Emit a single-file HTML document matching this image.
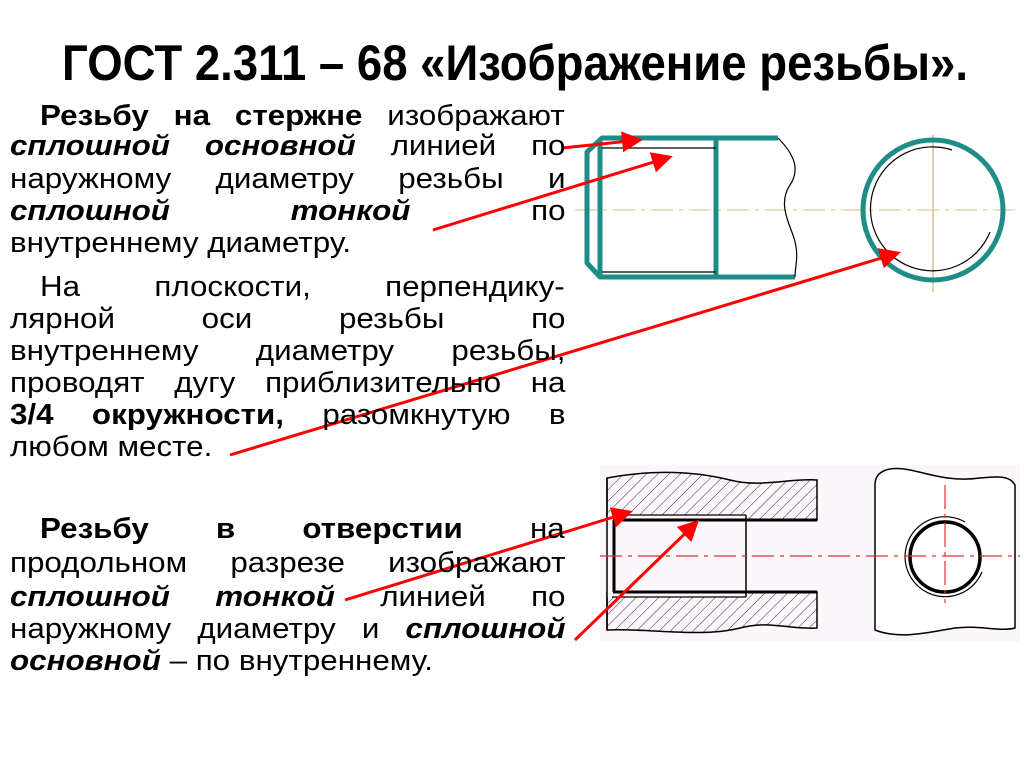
<!DOCTYPE html>
<html><head><meta charset="utf-8"><style>
body{margin:0;width:1024px;height:767px;background:#fff;position:relative;overflow:hidden;font-family:"Liberation Sans","DejaVu Sans",sans-serif;}
.l{position:absolute;left:10px;width:505px;font-size:28.5px;line-height:30px;height:30px;white-space:nowrap;text-align:justify;text-align-last:justify;color:#000;transform:scaleX(1.1);transform-origin:0 0;}
.n{text-align-last:left;}
.i{left:40px;width:477px;}
b{font-weight:bold}
svg{position:absolute;left:0;top:0}
</style></head><body>
<svg width="1024" height="767">
<text x="62" y="80" font-family="Liberation Sans" font-weight="bold" font-size="50" textLength="906" lengthAdjust="spacingAndGlyphs">ГОСТ 2.311 – 68 «Изображение резьбы».</text>
<line x1="575" y1="210" x2="1020" y2="210" stroke="#e8d4a8" stroke-width="1.5" stroke-dasharray="22,6,4,6"/>
<line x1="933" y1="135" x2="933" y2="292" stroke="#d8c090" stroke-width="1.5"/>
<g stroke="#1f8d87" stroke-width="5" fill="none" stroke-linejoin="round">
<path d="M778 138 L602 138 L587 152 L587 263 L600 277 L795 277"/>
<line x1="600" y1="140" x2="600" y2="276"/>
<line x1="716" y1="138" x2="716" y2="277"/>
<circle cx="933" cy="210" r="70"/>
</g>
<g stroke="#000" stroke-width="1.2" fill="none">
<line x1="602" y1="148" x2="716" y2="148"/>
<line x1="602" y1="272" x2="716" y2="272"/>
<path d="M778 138 C795 155,800 170,790 185 C780 200,785 215,793 235 C800 255,795 265,795 277"/>
<path d="M952 150 A62 62 0 1 0 990 232"/>
</g>
<rect x="600" y="465" width="420" height="177" fill="#faf6fa"/>
<defs><pattern id="h" width="8" height="8" patternUnits="userSpaceOnUse" patternTransform="rotate(45)"><line x1="0" y1="0" x2="0" y2="8" stroke="#333" stroke-width="1"/></pattern></defs>
<path d="M607 478 C650 470,690 470,730 480 C760 488,790 478,817 480 L817 520 L607 520 Z" fill="url(#h)" stroke="#000" stroke-width="1.5"/>
<path d="M607 592 L817 592 L817 628 C790 630,770 620,740 628 C700 638,650 628,607 630 Z" fill="url(#h)" stroke="#000" stroke-width="1.5"/>
<rect x="607" y="515" width="139" height="82" fill="#faf6fa"/>
<rect x="746" y="520" width="71" height="72" fill="#faf6fa"/>
<g stroke="#000" fill="none">
<line x1="607" y1="478" x2="607" y2="630" stroke-width="1.5"/>
<line x1="613" y1="520" x2="817" y2="520" stroke-width="3"/>
<line x1="613" y1="592" x2="817" y2="592" stroke-width="3"/>
<line x1="614" y1="520" x2="614" y2="592" stroke-width="3"/>
<line x1="612" y1="515" x2="746" y2="515" stroke-width="1.2"/>
<line x1="612" y1="597" x2="746" y2="597" stroke-width="1.2"/>
<line x1="746" y1="515" x2="746" y2="597" stroke-width="1.5"/>
<path d="M875 485 C875 470,890 466,910 470 C930 474,950 482,980 478 C1000 476,1010 476,1015 485 L1015 628 C1000 632,980 625,955 628 C930 632,900 640,875 630 Z" stroke-width="1.5" fill="#fff"/>
<circle cx="945" cy="557" r="35" stroke-width="3.5"/>
<path d="M965 522 A40 40 0 1 0 982 572" stroke-width="1.2"/>
</g>
<line x1="600" y1="556" x2="1020" y2="556" stroke="#e03030" stroke-width="1.2" stroke-dasharray="22,6,4,6"/>
<line x1="945" y1="485" x2="945" y2="603" stroke="#e03030" stroke-width="1.2" stroke-dasharray="24,5,4,5"/>
<defs><marker id="a" markerWidth="7" markerHeight="7" refX="6" refY="3.5" orient="auto"><path d="M0 0 L7 3.5 L0 7 Z" fill="#f00"/></marker></defs>
<g stroke="#f00" stroke-width="3" marker-end="url(#a)">
<line x1="562" y1="148" x2="640" y2="140"/>
<line x1="433" y1="230" x2="670" y2="157"/>
<line x1="230" y1="455" x2="898" y2="253"/>
<line x1="345" y1="600" x2="630" y2="512"/>
<line x1="575" y1="640" x2="697" y2="522"/>
</g>
</svg>
<div class="l i" style="top:101px"><b>Резьбу на стержне</b> изображают</div>
<div class="l" style="top:131px"><b><i>сплошной основной</i></b> линией по</div>
<div class="l" style="top:164px">наружному диаметру резьбы и</div>
<div class="l" style="top:196px"><b><i>сплошной</i></b> <b><i>тонкой</i></b> по</div>
<div class="l n" style="top:228px">внутреннему диаметру.</div>
<div class="l i" style="top:272px">На плоскости, перпендику-</div>
<div class="l" style="top:304px">лярной оси резьбы по</div>
<div class="l" style="top:336px">внутреннему диаметру резьбы,</div>
<div class="l" style="top:368px">проводят дугу приблизительно на</div>
<div class="l" style="top:400px"><b>3/4 окружности,</b> разомкнутую в</div>
<div class="l n" style="top:432px">любом месте.</div>
<div class="l i" style="top:514px"><b>Резьбу в отверстии</b> на</div>
<div class="l" style="top:548px">продольном разрезе изображают</div>
<div class="l" style="top:582px"><b><i>сплошной тонкой</i></b> линией по</div>
<div class="l" style="top:614px">наружному диаметру и <b><i>сплошной</i></b></div>
<div class="l n" style="top:646px"><b><i>основной</i></b> – по внутреннему.</div>
</body></html>
